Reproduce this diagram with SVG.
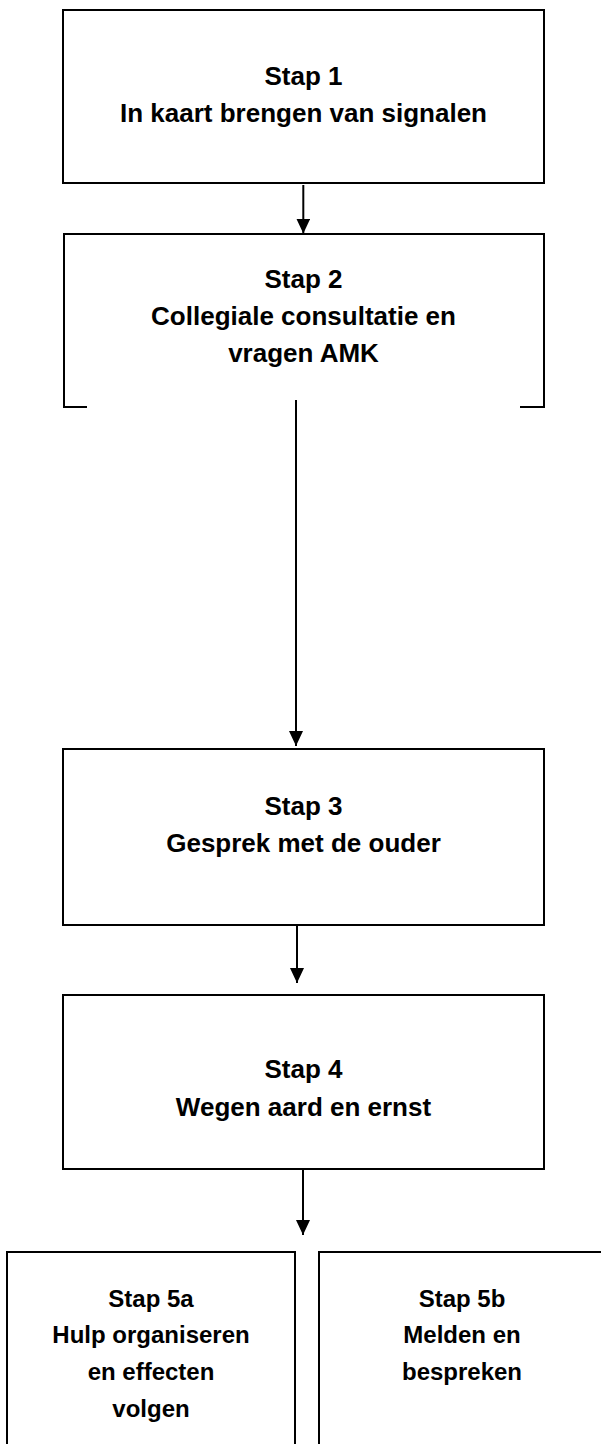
<svg xmlns="http://www.w3.org/2000/svg" width="601" height="1444" viewBox="0 0 601 1444">
<style>
.box{fill:#fff;stroke:#000;stroke-width:2}
.t{font-family:"Liberation Sans",Arial,sans-serif;font-weight:bold;font-size:26px;text-anchor:middle;fill:#000}
.s{font-size:24px}
.c{fill:none;stroke:#000;stroke-width:2}
</style>
<defs>
<marker id="ah" viewBox="0 0 15 14" refX="15" refY="7" markerWidth="15" markerHeight="14" markerUnits="userSpaceOnUse" orient="auto">
<path d="M0,0 L15,7 L0,14 Z" fill="#000"/>
</marker>
</defs>
<rect width="601" height="1444" fill="#fff"/>
<g id="connectors">
<line class="c" x1="303.3" y1="185" x2="303.3" y2="233.5" marker-end="url(#ah)"/>
<line class="c" x1="296" y1="400" x2="296" y2="746" marker-end="url(#ah)"/>
<line class="c" x1="297" y1="925" x2="297" y2="983" marker-end="url(#ah)"/>
<line class="c" x1="303" y1="1169" x2="303" y2="1235" marker-end="url(#ah)"/>
</g>
<g id="stap1">
<rect class="box" x="63" y="10" width="481" height="173"/>
<text class="t" x="303.5" y="85">Stap 1</text>
<text class="t" x="303.5" y="122">In kaart brengen van signalen</text>
</g>
<g id="stap2">
<path class="c" d="M87,407 H64 V234 H544 V407 H520"/>
<text class="t" x="303.5" y="288">Stap 2</text>
<text class="t" x="303.5" y="325">Collegiale consultatie en</text>
<text class="t" x="303.5" y="362">vragen AMK</text>
</g>
<g id="stap3">
<rect class="box" x="63" y="749" width="481" height="176"/>
<text class="t" x="303.5" y="815">Stap 3</text>
<text class="t" x="303.5" y="852">Gesprek met de ouder</text>
</g>
<g id="stap4">
<rect class="box" x="63" y="995" width="481" height="174"/>
<text class="t" x="303.5" y="1078">Stap 4</text>
<text class="t" x="303.5" y="1116">Wegen aard en ernst</text>
</g>
<g id="stap5a">
<path class="c" d="M7,1450 V1252 H295 V1450"/>
<text class="t s" x="151" y="1307">Stap 5a</text>
<text class="t s" x="151" y="1343">Hulp organiseren</text>
<text class="t s" x="151" y="1380">en effecten</text>
<text class="t s" x="151" y="1417">volgen</text>
</g>
<g id="stap5b">
<path class="c" d="M319,1450 V1252 H610"/>
<text class="t s" x="462" y="1307">Stap 5b</text>
<text class="t s" x="462" y="1343">Melden en</text>
<text class="t s" x="462" y="1380">bespreken</text>
</g>
</svg>
